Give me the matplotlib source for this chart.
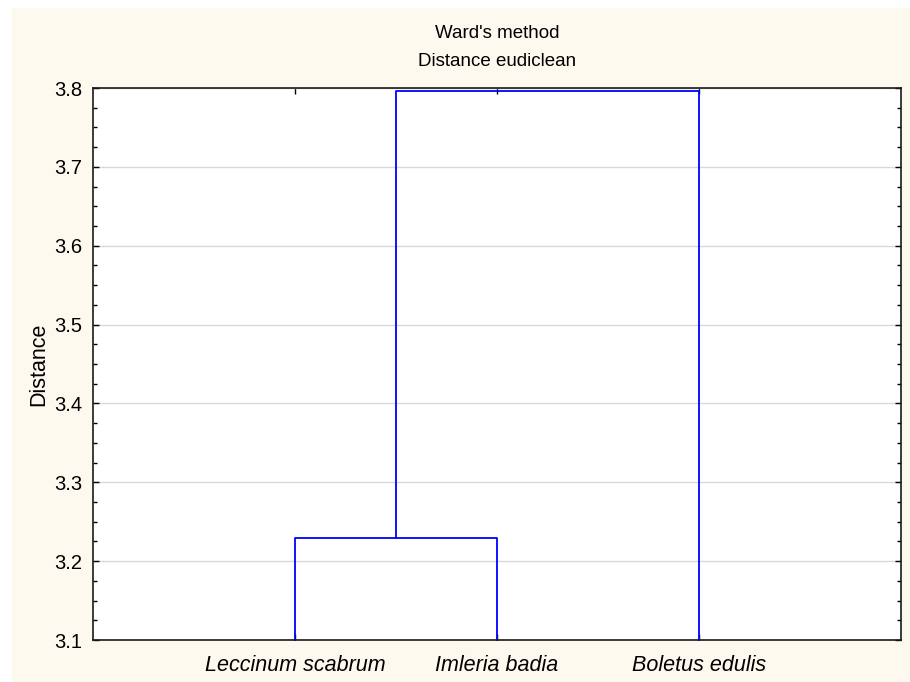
import matplotlib.pyplot as plt
from matplotlib.ticker import MultipleLocator
from matplotlib.patches import Rectangle

plt.rcParams['font.family'] = ['Liberation Sans', 'DejaVu Sans']

# leaves and merge heights
leaves = ['Leccinum scabrum', 'Imleria badia', 'Boletus edulis']
leaf_pos = [1, 2, 3]
merge1 = 3.229   # Leccinum + Imleria
merge2 = 3.796   # (Leccinum, Imleria) + Boletus
y_min, y_max = 3.1, 3.8
y_ticks = [3.1, 3.2, 3.3, 3.4, 3.5, 3.6, 3.7, 3.8]

fig = plt.figure(figsize=(9.1, 6.82), dpi=100)
fig.patch.set_facecolor('white')
fig.patches.append(Rectangle((12 / 910, 0), 1, 1 - 8 / 682, transform=fig.transFigure,
                             facecolor='#fdf9ef', edgecolor='none', zorder=-1))
ax = fig.add_axes([93 / 910, 1 - 640 / 682, 808 / 910, 552 / 682])
ax.set_facecolor('white')

blue = '#0000ff'
lw = 1.3
# first cluster
ax.plot([leaf_pos[0], leaf_pos[0], leaf_pos[1], leaf_pos[1]],
        [y_min, merge1, merge1, y_min], color=blue, lw=lw, clip_on=False)
mid = (leaf_pos[0] + leaf_pos[1]) / 2
ax.plot([mid, mid, leaf_pos[2], leaf_pos[2]],
        [merge1, merge2, merge2, y_min], color=blue, lw=lw, clip_on=False)

ax.set_xlim(0, 4)
ax.set_ylim(y_min, y_max)
ax.set_yticks(y_ticks)
ax.set_yticklabels(['%.1f' % v for v in y_ticks])
ax.yaxis.set_minor_locator(MultipleLocator(0.025))
ax.set_xticks(leaf_pos)
ax.set_xticklabels(leaves, style='italic', fontsize=15.5)
ax.grid(axis='y', color='#d8d8d8', lw=1)
ax.set_axisbelow(True)
ax.tick_params(axis='both', which='both', direction='in', top=True, right=True,
               color='black')
ax.tick_params(axis='y', which='major', length=4, width=1, pad=8, labelsize=14.5)
ax.tick_params(axis='y', which='minor', length=3, width=1)
ax.tick_params(axis='x', which='major', length=4, width=1, pad=11)
for s in ax.spines.values():
    s.set_linewidth(1.2)
    s.set_color('#1a1a1a')

ax.set_ylabel('Distance', fontsize=15.5, labelpad=3)
fig.text(497 / 910, 1 - 34 / 682, "Ward's method", ha='center', va='center', fontsize=13.5)
fig.text(497 / 910, 1 - 62 / 682, 'Distance eudiclean', ha='center', va='center', fontsize=13.5)

fig.savefig('out.png', dpi=100, facecolor=fig.get_facecolor())
